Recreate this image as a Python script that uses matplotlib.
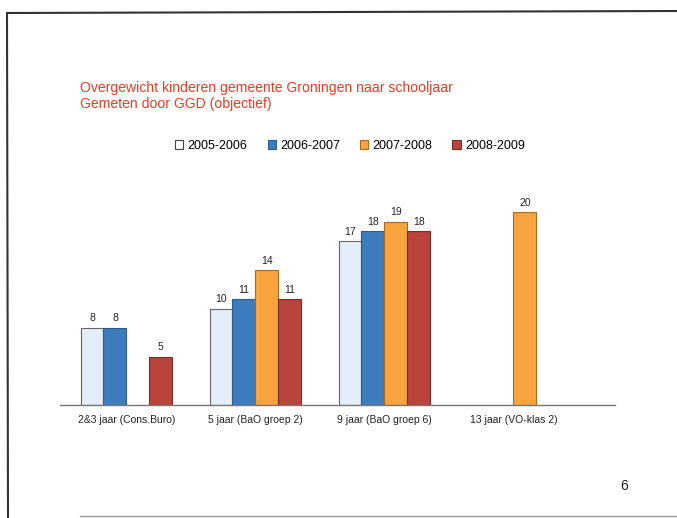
import numpy as np
import matplotlib.pyplot as plt
from matplotlib.patches import Patch

plt.rcParams['font.family'] = ['Liberation Sans', 'DejaVu Sans']

categories = ['2&3 jaar (Cons.Buro)', '5 jaar (BaO groep 2)', '9 jaar (BaO groep 6)', '13 jaar (VO-klas 2)']
series = ['2005-2006', '2006-2007', '2007-2008', '2008-2009']
values = {
    '2005-2006': [8, 10, 17, None],
    '2006-2007': [8, 11, 18, None],
    '2007-2008': [None, 14, 19, 20],
    '2008-2009': [5, 11, 18, None],
}
colors = ['#e3eef8', '#3d7dbd', '#f8a43e', '#b9443c']
edges = ['#666666', '#2c5d8e', '#a86a1e', '#7e2a25']

fig = plt.figure(figsize=(6.77, 5.18), dpi=100)
ax = fig.add_axes([60 / 677, (518 - 405) / 518, 555 / 677, 212.3 / 518])

x = np.arange(len(categories))
w = 0.178
for i, s in enumerate(series):
    for j, v in enumerate(values[s]):
        if v is None:
            continue
        xp = x[j] + (i - 1.5) * w
        ax.bar(xp, v, width=w, color=colors[i], edgecolor=edges[i], linewidth=0.8)
        ax.text(xp, v + 0.45, str(v), ha='center', va='bottom', fontsize=7.5, color='#222222')

ax.set_xlim(-0.515, 3.787)
ax.set_ylim(0, 22)
ax.set_xticks(x)
ax.set_xticklabels(categories, fontsize=7.5, color='#222222')
ax.tick_params(axis='x', length=0, pad=7)
ax.set_yticks([])
for side in ['left', 'right', 'top']:
    ax.spines[side].set_visible(False)
ax.spines['bottom'].set_color('#777777')
ax.spines['bottom'].set_linewidth(1.0)

fig.text(80 / 677, 1 - 96 / 518, 'Overgewicht kinderen gemeente Groningen naar schooljaar\nGemeten door GGD (objectief)',
         color='#ee3a24', fontsize=10.1, ha='left', va='center', linespacing=1.2)

handles = [Patch(facecolor='#ffffff', edgecolor='#444444', linewidth=0.8, label=series[0])]
for i in range(1, 4):
    handles.append(Patch(facecolor=colors[i], edgecolor=edges[i], linewidth=0.8, label=series[i]))
fig.legend(handles=handles, loc='center', bbox_to_anchor=(350 / 677, 1 - 146 / 518), ncol=4, frameon=False,
           fontsize=9, handlelength=0.65, handleheight=0.65, handletextpad=0.35, columnspacing=1.6)

fig.text(624 / 677, 1 - 486 / 518, '6', fontsize=10, ha='center', va='center', color='#222222')

# slide frame
fig.add_artist(plt.Line2D([7 / 677, 677 / 677], [1 - 13 / 518, 1 - 11 / 518], color='#333333', linewidth=1.5))
fig.add_artist(plt.Line2D([7 / 677, 8 / 677], [1 - 13 / 518, 0], color='#333333', linewidth=1.5))
fig.add_artist(plt.Line2D([80 / 677, 677 / 677], [1 - 516 / 518, 1 - 516 / 518], color='#999999', linewidth=1.0))

fig.savefig('out.png', dpi=100)
